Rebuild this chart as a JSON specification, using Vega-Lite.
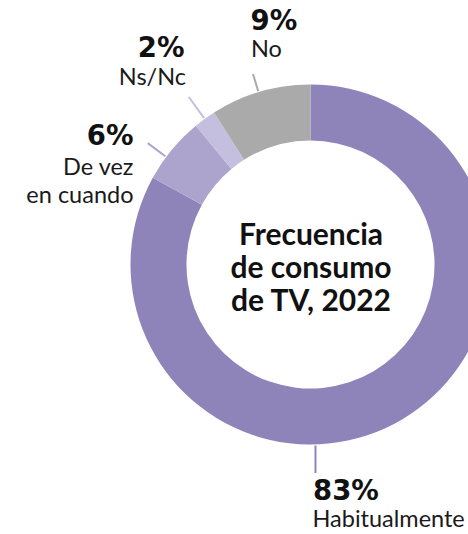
{
  "$schema": "https://vega.github.io/schema/vega-lite/v6.json",
  "width": 468,
  "height": 534,
  "autosize": {"type": "none"},
  "padding": 0,
  "background": "white",
  "config": {"view": {"stroke": null}, "font": "Lato"},
  "datasets": {
    "consumo": [
      {"categoria": "Habitualmente", "porcentaje": 83, "orden": 1},
      {"categoria": "De vez en cuando", "porcentaje": 6, "orden": 2},
      {"categoria": "Ns/Nc", "porcentaje": 2, "orden": 3},
      {"categoria": "No", "porcentaje": 9, "orden": 4}
    ],
    "guias": [
      {"categoria": "Habitualmente", "x": 5, "y": -181, "x2": 5, "y2": -208.5},
      {"categoria": "De vez en cuando", "x": -145.2, "y": 108.2, "x2": -162.8, "y2": 121.4},
      {"categoria": "Ns/Nc", "x": -106.4, "y": 146.4, "x2": -121.7, "y2": 167.5},
      {"categoria": "No", "x": -52.3, "y": 173.2, "x2": -57.5, "y2": 190.5}
    ],
    "porcentajes": [
      {"categoria": "Habitualmente", "texto": "83%", "x": 2.5, "y": -235.5},
      {"categoria": "De vez en cuando", "texto": "6%", "x": -177, "y": 119.5},
      {"categoria": "Ns/Nc", "texto": "2%", "x": -126, "y": 207.5},
      {"categoria": "No", "texto": "9%", "x": -60, "y": 235}
    ],
    "nombres": [
      {"categoria": "Habitualmente", "texto": ["Habitualmente"], "x": 2, "y": -262.5},
      {"categoria": "De vez en cuando", "texto": ["De vez", "en cuando"], "x": -177, "y": 89.5},
      {"categoria": "Ns/Nc", "texto": ["Ns/Nc"], "x": -124.5, "y": 179.5},
      {"categoria": "No", "texto": ["No"], "x": -59.5, "y": 207.2}
    ],
    "titulo": [
      {"texto": ["Frecuencia", "de consumo", "de TV, 2022"], "x": 0.5, "y": 20}
    ]
  },
  "layer": [
    {
      "data": {"name": "consumo"},
      "mark": {"type": "arc", "innerRadius": 124, "outerRadius": 180, "stroke": null},
      "encoding": {
        "theta": {"field": "porcentaje", "type": "quantitative", "stack": true},
        "order": {"field": "orden", "type": "quantitative"},
        "color": {
          "field": "categoria",
          "type": "nominal",
          "scale": {
            "domain": ["Habitualmente", "De vez en cuando", "Ns/Nc", "No"],
            "range": ["#8f84ba", "#aca4cc", "#c5bfdf", "#a9aaa9"]
          },
          "legend": null
        },
        "x": {"datum": 0, "type": "quantitative", "scale": {"domain": [-310.5, 157.5], "nice": false, "zero": false}, "axis": null},
        "y": {"datum": 0, "type": "quantitative", "scale": {"domain": [-269.5, 264.5], "nice": false, "zero": false}, "axis": null}
      }
    },
    {
      "data": {"name": "guias"},
      "mark": {"type": "rule", "strokeWidth": 2},
      "encoding": {
        "x": {"field": "x", "type": "quantitative"},
        "y": {"field": "y", "type": "quantitative"},
        "x2": {"field": "x2"},
        "y2": {"field": "y2"},
        "color": {"field": "categoria", "type": "nominal", "legend": null}
      }
    },
    {
      "data": {"name": "porcentajes"},
      "transform": [{"filter": {"field": "categoria", "oneOf": ["Habitualmente", "No"]}}],
      "mark": {"type": "text", "align": "left", "baseline": "alphabetic", "font": "DejaVu Sans", "fontSize": 27.5, "fontWeight": "bold", "color": "#111111"},
      "encoding": {
        "x": {"field": "x", "type": "quantitative"},
        "y": {"field": "y", "type": "quantitative"},
        "text": {"field": "texto"}
      }
    },
    {
      "data": {"name": "porcentajes"},
      "transform": [{"filter": {"field": "categoria", "oneOf": ["De vez en cuando", "Ns/Nc"]}}],
      "mark": {"type": "text", "align": "right", "baseline": "alphabetic", "font": "DejaVu Sans", "fontSize": 27.5, "fontWeight": "bold", "color": "#111111"},
      "encoding": {
        "x": {"field": "x", "type": "quantitative"},
        "y": {"field": "y", "type": "quantitative"},
        "text": {"field": "texto"}
      }
    },
    {
      "data": {"name": "nombres"},
      "transform": [{"filter": {"field": "categoria", "oneOf": ["Habitualmente", "No"]}}],
      "mark": {"type": "text", "align": "left", "baseline": "alphabetic", "fontSize": 23.5, "lineHeight": 28, "color": "#1a1a1a"},
      "encoding": {
        "x": {"field": "x", "type": "quantitative"},
        "y": {"field": "y", "type": "quantitative"},
        "text": {"field": "texto"}
      }
    },
    {
      "data": {"name": "nombres"},
      "transform": [{"filter": {"field": "categoria", "oneOf": ["De vez en cuando", "Ns/Nc"]}}],
      "mark": {"type": "text", "align": "right", "baseline": "alphabetic", "fontSize": 23.5, "lineHeight": 28, "color": "#1a1a1a"},
      "encoding": {
        "x": {"field": "x", "type": "quantitative"},
        "y": {"field": "y", "type": "quantitative"},
        "text": {"field": "texto"}
      }
    },
    {
      "data": {"name": "titulo"},
      "mark": {"type": "text", "align": "center", "baseline": "alphabetic", "fontSize": 30, "fontWeight": "bold", "lineHeight": 33, "color": "#111111"},
      "encoding": {
        "x": {"field": "x", "type": "quantitative"},
        "y": {"field": "y", "type": "quantitative"},
        "text": {"field": "texto"}
      }
    }
  ]
}
